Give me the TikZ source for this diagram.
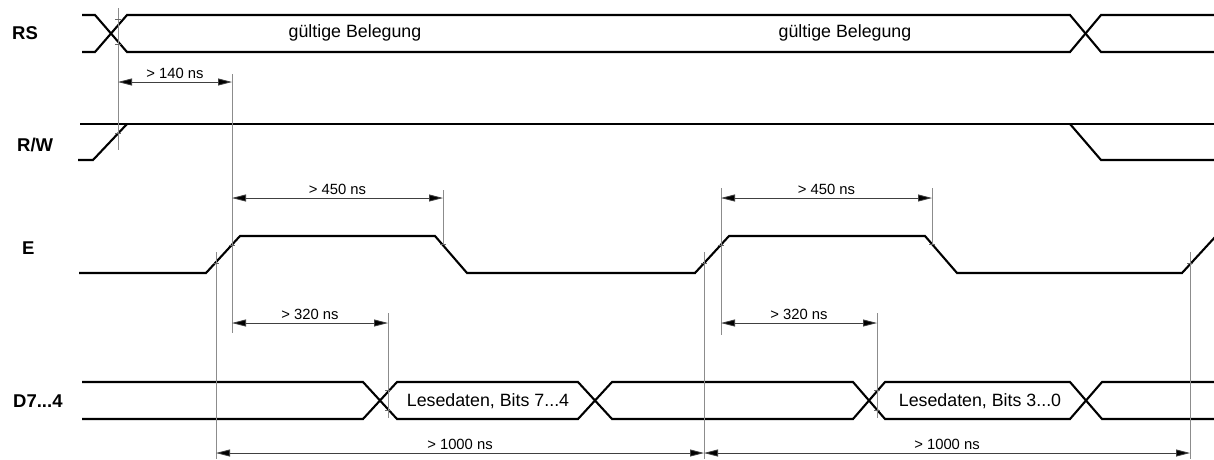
\documentclass[tikz,border=0pt]{standalone}
\usepackage{fontspec}
\setmainfont{Liberation Sans}
\usetikzlibrary{arrows.meta}
\begin{document}
\begin{tikzpicture}[x=1pt,y=-1pt,
  sig/.style={line width=2.1pt, line join=miter},
  guide/.style={line width=0.9pt, draw=black!45},
  dimline/.style={line width=0.8pt, draw=black!75, {Triangle[length=14pt,width=7pt,fill=black]}-{Triangle[length=14pt,width=7pt,fill=black]}},
  tickmark/.style={line width=0.8pt, draw=black!60},
  lbl/.style={font=\fontsize{18.5}{19}\selectfont\bfseries, anchor=west, inner sep=0},
  dimtxt/.style={font=\fontsize{14.8}{15}\selectfont, inner sep=0},
  bustxt/.style={font=\fontsize{17.8}{18}\selectfont, inner sep=0}]

\path[fill=white] (0,0) rectangle (1214,459);
\useasboundingbox (0,0) rectangle (1214,459);

% signal labels
\node[lbl] (lRS) at (12,33) {RS};
\node[lbl] (lRW) at (17,145) {R/W};
\node[lbl] (lE) at (22,248) {E};
\node[lbl] (lD) at (13,401) {D7...4};

% RS bus
\draw[sig] (82,15) -- (95,15) -- (127,52) -- (1070,52) -- (1101,15) -- (1214,15);
\draw[sig] (82,52) -- (95,52) -- (127,15) -- (1070,15) -- (1101,52) -- (1214,52);
\node[bustxt] (rs1) at (355,33) {gültige Belegung};
\node[bustxt] (rs2) at (845,33) {gültige Belegung};

% R/W
\draw[sig] (80,124) -- (1214,124);
\draw[sig] (78,160) -- (93,160) -- (127,124);
\draw[sig] (1070,124) -- (1101,160) -- (1214,160);

% E
\draw[sig] (79,273) -- (206,273) -- (240,236) -- (435,236) -- (467,273) -- (695,273)
  -- (729,236) -- (925,236) -- (957,273) -- (1182,273) -- (1216,236);

% D7...4 bus
\draw[sig] (82,382) -- (363,382) -- (397,419) -- (578,419) -- (612,382) -- (853,382)
  -- (885,419) -- (1070,419) -- (1102,382) -- (1214,382);
\draw[sig] (82,419) -- (363,419) -- (397,382) -- (578,382) -- (612,419) -- (853,419)
  -- (885,382) -- (1070,382) -- (1102,419) -- (1214,419);
\node[bustxt] (d1) at (488,401) {Lesedaten, Bits 7...4};
\node[bustxt] (d2) at (980,401) {Lesedaten, Bits 3...0};

% guide lines
\foreach \n/\x/\a/\b in {g1/118/8/150, g2/232/74/333, g3/443/190/245, g4/216/252/459,
  g5/388/313/418, g6/704/252/459, g7/721/188/335, g8/932/188/245, g9/877/313/418,
  g10/1190/252/459}{
  \coordinate (\n t) at (\x,\a);
  \coordinate (\n b) at (\x,\b);
  \draw[guide] (\n t) -- (\n b);
}

% tick marks where guides meet edges
\foreach \x/\y in {118/19, 118/44, 118/133, 232/245, 216/263, 443/244, 388/390, 388/410,
  704/263, 721/245, 932/244, 877/390, 877/410, 1190/263}{
  \draw[tickmark] (\x-3,\y) -- (\x+3,\y);
}

% dimension arrows
\foreach \n/\xa/\xb/\y/\t in {a/118/232/82/{> 140 ns}, b/232/443/198/{> 450 ns},
  c/232/388/323/{> 320 ns}, d/216/704/453/{> 1000 ns}, e/721/932/198/{> 450 ns},
  f/721/877/323/{> 320 ns}, h/704/1190/453/{> 1000 ns}}{
  \coordinate (\n L) at (\xa,\y);
  \coordinate (\n R) at (\xb,\y);
  \draw[dimline] (\n L) -- (\n R);
  \node[dimtxt] (\n T) at ({(\xa+\xb)/2},\y-9) {\t};
}
\end{tikzpicture}
\end{document}
